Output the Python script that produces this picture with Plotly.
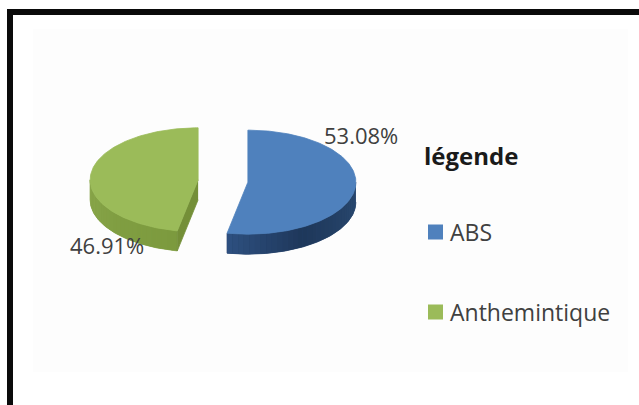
import numpy as np
import plotly.graph_objects as go

# Data
categories = ["ABS", "Anthemintique"]
percentages = [53.08, 46.91]
legend_title = "légende"

# Styling
top_colors = ["#4F81BD", "#9BBB59"]
side_base = ["#24416A", "#819F43"]
side_stops = [
    [(90, "#2B4B73"), (150, "#1E375A"), (191, "#2E5080")],
    [(191, "#7C9A3E"), (230, "#809E42"), (270, "#8BA84C")],
]
radial_colors = ["#26426A", "#748F38"]
text_color = "#404040"
FONT = "Open Sans"

W, H = 639, 405
CX, CY = 223, 181          # pie centre (px)
RX, RY = 108, 52           # ellipse radii of the tilted disc
DEPTH = 20                 # thickness of the disc
EXPLODE = 25               # distance each slice is pulled out


def hex2rgb(h):
    h = h.lstrip("#")
    return np.array([int(h[i:i + 2], 16) for i in (0, 2, 4)], dtype=float)


def interp_color(stops, ang):
    angs = [s[0] for s in stops]
    cols = [hex2rgb(s[1]) for s in stops]
    ang = min(max(ang, angs[0]), angs[-1])
    for i in range(len(angs) - 1):
        if angs[i] <= ang <= angs[i + 1]:
            t = (ang - angs[i]) / (angs[i + 1] - angs[i]) if angs[i + 1] > angs[i] else 0
            c = cols[i] * (1 - t) + cols[i + 1] * t
            return "rgb(%d,%d,%d)" % tuple(np.round(c))
    return "rgb(%d,%d,%d)" % tuple(cols[-1])


def arc(a0, a1, ox, oy, dz=0.0, n=60):
    t = np.radians(np.linspace(a0, a1, n))
    return ox + RX * np.sin(t), oy - RY * np.cos(t) + dz


def poly(xs, ys, col, width=0.0, name=None):
    return go.Scatter(
        x=xs, y=ys, fill="toself", mode="lines", fillcolor=col,
        line=dict(color=col, width=width), hoverinfo="skip" if name is None else "name",
        name=name, showlegend=False)


fig = go.Figure()

# slice angles, measured clockwise from 12 o'clock
total = sum(percentages)
bounds = np.concatenate([[0], np.cumsum(percentages) / total * 360])

side_traces, top_traces = [], []
for i, (cat, val) in enumerate(zip(categories, percentages)):
    a0, a1 = bounds[i], bounds[i + 1]
    mid = np.radians((a0 + a1) / 2)
    ox = CX + EXPLODE * np.sin(mid)
    oy = CY - EXPLODE * np.cos(mid) * RY / RX

    # visible curved wall (front half of the disc), shaded in bands
    s0, s1 = max(a0, 90), min(a1, 270)
    if s1 > s0:
        xt, yt = arc(s0, s1, ox, oy, 0, 120)
        xb, yb = arc(s1, s0, ox, oy, DEPTH, 120)
        side_traces.append(poly(np.r_[xt, xb], np.r_[yt, yb], side_base[i], 0.8))
        edges = np.linspace(s0, s1, int(np.ceil((s1 - s0) / 3)) + 1)
        for e0, e1 in zip(edges[:-1], edges[1:]):
            xt, yt = arc(e0, e1, ox, oy, 0, 8)
            xb, yb = arc(e1, e0, ox, oy, DEPTH, 8)
            side_traces.append(poly(np.r_[xt, xb], np.r_[yt, yb],
                                    interp_color(side_stops[i], (e0 + e1) / 2)))

    # radial cut faces that turn toward the viewer
    for edge, normal in ((a0, a0 - 90), (a1, a1 + 90)):
        nrm = normal % 360
        if 92 < nrm < 268:
            ex, ey = arc(edge, edge, ox, oy, 0, 1)
            xs = [ox, ex[0], ex[0], ox]
            ys = [oy, ey[0], ey[0] + DEPTH, oy + DEPTH]
            side_traces.append(poly(xs, ys, radial_colors[i], 0.8))

    # top face of the slice
    xa, ya = arc(a0, a1, ox, oy, 0, 180)
    top_traces.append(poly(np.r_[ox, xa, ox], np.r_[oy, ya, oy], top_colors[i], 0.8, cat))

for tr in side_traces + top_traces:
    fig.add_trace(tr)

# percentage labels
label_pos = [(361, 135), (107, 245)]
annotations = []
for val, (lx, ly) in zip(percentages, label_pos):
    annotations.append(dict(
        x=lx, y=ly, xref="x", yref="y", text=f"{val:.2f}%", showarrow=False,
        font=dict(family=FONT, size=22, color=text_color),
        xanchor="center", yanchor="middle"))

# legend
annotations.append(dict(
    x=422, y=155, xref="x", yref="y", text=f"<b>{legend_title}</b>", showarrow=False,
    font=dict(family=FONT, size=24, color="#1a1a1a"), xanchor="left", yanchor="middle"))

shapes = [
    # inner plot area
    dict(type="rect", xref="x", yref="y", x0=33, x1=628, y0=29, y1=372,
         fillcolor="#fdfdfd", line=dict(width=0), layer="below"),
    # frame
    dict(type="line", xref="x", yref="y", x0=7, x1=W + 5, y0=12, y1=12,
         line=dict(color="#0a0a0a", width=6)),
    dict(type="line", xref="x", yref="y", x0=10, x1=10, y0=9, y1=H + 5,
         line=dict(color="#0a0a0a", width=6)),
]
legend_y = [232, 312]
for cat, col, ly in zip(categories, top_colors, legend_y):
    shapes.append(dict(type="rect", xref="x", yref="y", x0=428, x1=443,
                       y0=ly - 7.5, y1=ly + 7.5, fillcolor=col, line=dict(width=0)))
    annotations.append(dict(
        x=448, y=ly, xref="x", yref="y", text=cat, showarrow=False,
        font=dict(family=FONT, size=23, color=text_color), xanchor="left", yanchor="middle"))

fig.update_layout(
    width=W, height=H, margin=dict(l=0, r=0, t=0, b=0),
    paper_bgcolor="white", plot_bgcolor="white",
    xaxis=dict(range=[0, W], visible=False, fixedrange=True),
    yaxis=dict(range=[H, 0], visible=False, fixedrange=True),
    shapes=shapes, annotations=annotations, showlegend=False,
)

fig.write_html("out.html")
